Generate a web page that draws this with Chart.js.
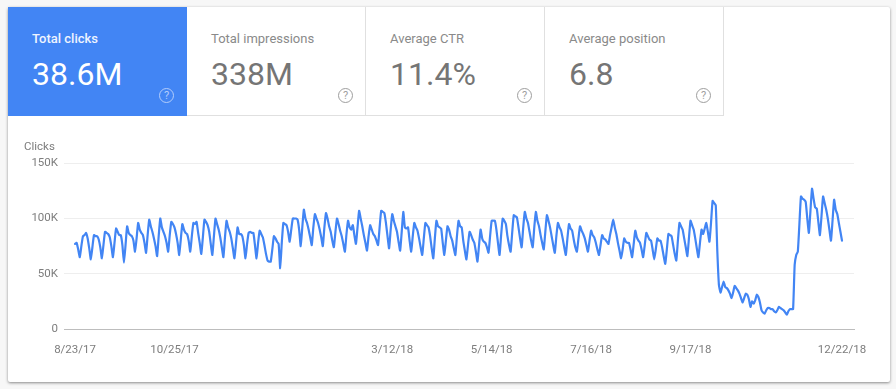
<!DOCTYPE html>
<html>
<head>
<meta charset="utf-8">
<title>Search performance</title>
<script src="https://cdn.jsdelivr.net/npm/chart.js@4"></script>
<style>
  html, body { margin: 0; padding: 0; width: 896px; height: 389px; overflow: hidden; background: #f7f7f7; font-family: Roboto, sans-serif; }
  .card { position: absolute; left: 8px; top: 7px; width: 882px; height: 375px; background: #fff; border-radius: 2px; box-shadow: 0 1px 3px rgba(0,0,0,.45); }
  .tab { position: absolute; top: 0; width: 179px; height: 109px; box-sizing: border-box; border-right: 1px solid #e0e0e0; border-bottom: 1px solid #e0e0e0; color: #8a8a8a; }
  .tab.active { background: #4285f4; color: #fff; border: 0; }
  .tab .name { position: absolute; left: 24px; top: 24px; font-size: 13px; line-height: 15px; }
  .tab.active .name { font-weight: 500; color: #eef4ff; }
  .tab .value { position: absolute; left: 24px; top: 48px; font-size: 32px; line-height: 38px; color: #757575; }
  .tab.active .value { color: #fff; }
  .tab .help { position: absolute; left: 151px; top: 81px; width: 15px; height: 15px; box-sizing: border-box; border: 1px solid #9e9e9e; border-radius: 50%; font-size: 11px; line-height: 13px; text-align: center; color: #9e9e9e; }
  .tab.active .help { border-color: #b3cdfb; color: #b3cdfb; }
  #clicks { position: absolute; left: 0; top: 109px; }
</style>
</head>
<body>
<div class="card">
  <div class="tab active" style="left:0"><div class="name">Total clicks</div><div class="value">38.6M</div><div class="help">?</div></div>
  <div class="tab" style="left:179px"><div class="name">Total impressions</div><div class="value">338M</div><div class="help">?</div></div>
  <div class="tab" style="left:358px"><div class="name">Average CTR</div><div class="value">11.4%</div><div class="help">?</div></div>
  <div class="tab" style="left:537px"><div class="name">Average position</div><div class="value">6.8</div><div class="help">?</div></div>
  <canvas id="clicks" width="882" height="266"></canvas>
</div>
<script>
const tickDays = [0, 63, 201, 264, 327, 390, 486];
const tickLabels = ["8/23/17", "10/25/17", "3/12/18", "5/14/18", "7/16/18", "9/17/18", "12/22/18"];
const yTicks = [0, 50, 100, 150];

// daily clicks in thousands, one row per week, starting 8/23/17
const clicksK = [
  77,78,72,65,75,84,85,
  87,82,73,63,74,85,84,
  84,81,74,64,76,88,87,
  86,83,75,65,78,91,88,
  85,85,76,60,76,93,87,
  85,84,80,70,82,96,90,
  87,85,78,69,85,99,93,
  88,82,75,66,84,100,92,
  88,84,78,70,85,97,95,
  92,86,78,67,81,95,90,
  87,86,80,70,84,96,95,
  97,87,78,68,83,99,97,
  94,88,77,67,84,100,95,
  90,83,74,65,83,98,92,
  88,82,73,64,78,92,86,
  86,84,76,64,77,87,88,
  87,87,76,64,78,89,86,
  83,76,68,62,61,61,72,
  84,82,79,77,55,78,96,
  95,94,88,79,90,100,100,
  100,99,90,75,92,108,100,
  96,90,83,76,92,104,100,
  96,90,83,75,92,105,100,
  93,88,80,74,88,100,95,
  89,84,77,70,86,98,92,
  90,94,85,77,92,107,100,
  93,85,78,71,84,94,90,
  86,84,80,76,92,107,106,
  105,96,84,73,90,104,98,
  93,88,79,71,88,106,92,
  91,92,80,70,84,96,92,
  89,82,74,67,82,96,94,
  92,84,73,64,82,98,93,
  92,91,78,67,80,93,90,
  84,80,73,67,84,98,93,
  92,80,71,63,76,88,85,
  81,78,70,61,76,90,82,
  79,78,74,69,84,98,98,
  98,90,78,67,85,100,98,
  95,84,76,70,87,103,102,
  101,92,82,74,92,106,100,
  96,88,80,74,92,106,98,
  93,85,78,72,88,103,98,
  92,84,76,69,84,96,92,
  89,82,74,67,82,95,91,
  89,81,74,70,82,93,89,
  86,82,76,70,80,89,85,
  83,78,72,67,76,85,82,
  81,79,77,85,92,99,92,
  86,78,71,64,72,82,79,
  78,78,72,65,77,89,83,
  80,78,72,65,76,87,84,
  81,80,72,63,72,82,80,
  80,74,66,59,72,86,85,
  84,76,68,62,80,96,93,
  90,82,74,66,82,98,94,
  90,82,73,65,78,90,86,
  91,96,88,79,96,116,114,
  112,70,40,33,38,43,38,
  37,35,32,28,33,39,37,
  35,32,28,24,28,32,31,
  27,20,25,23,26,31,29,
  24,17,15,14,17,19,19,
  18,18,16,15,17,20,19,
  18,17,15,13,16,18,18,
  18,58,67,70,95,120,118,
  117,115,100,87,107,127,118,
  110,109,97,85,102,120,114,
  108,100,90,80,98,117,108,
  104,96,88,80
];

function grafico_clicks() {
  const ctx = document.getElementById("clicks");

  new Chart(ctx, {
    type: "line",
    data: {
      datasets: [
        {
          label: "Clicks",
          data: clicksK.map((v, i) => ({ x: i, y: v })),
          borderColor: "#4285f4",
          borderWidth: 2.2,
          borderJoinStyle: "round",
          borderCapStyle: "round",
          pointRadius: 0,
          tension: 0.15,
          fill: false,
        },
      ],
    },
    options: {
      responsive: false,
      animation: false,
      layout: { padding: { left: 16, right: 36, top: 24, bottom: 0 } },
      plugins: {
        legend: { display: false },
        tooltip: { enabled: false },
        title: {
          display: true,
          text: "Clicks",
          align: "start",
          color: "#7d7d7d",
          font: { family: "Roboto", size: 11.5, weight: "normal", lineHeight: 1.2 },
          padding: { top: 0, bottom: 9.5 },
        },
      },
      scales: {
        x: {
          type: "linear",
          min: -7,
          max: 493.6,
          grid: { display: false, drawTicks: false },
          border: { display: true, color: "#bdbdbd" },
          afterBuildTicks: (scale) => {
            scale.ticks = tickDays.map((d) => ({ value: d }));
          },
          afterFit: (scale) => {
            scale.height = 53;
          },
          ticks: {
            autoSkip: false,
            maxRotation: 0,
            padding: 14,
            color: "#7d7d7d",
            font: { family: "Roboto", size: 11.5 },
            callback: (v) => tickLabels[tickDays.indexOf(v)],
          },
        },
        y: {
          min: 0,
          max: 150,
          grid: { color: "#eeeeee", drawTicks: false },
          border: { display: false },
          afterBuildTicks: (scale) => {
            scale.ticks = yTicks.map((v) => ({ value: v }));
          },
          afterFit: (scale) => {
            scale.width = 40;
          },
          ticks: {
            padding: 6,
            color: "#7d7d7d",
            font: { family: "Roboto", size: 11.5 },
            callback: (v) => (v === 0 ? "0" : v + "K"),
          },
        },
      },
    },
  });
}

grafico_clicks();
</script>
</body>
</html>
